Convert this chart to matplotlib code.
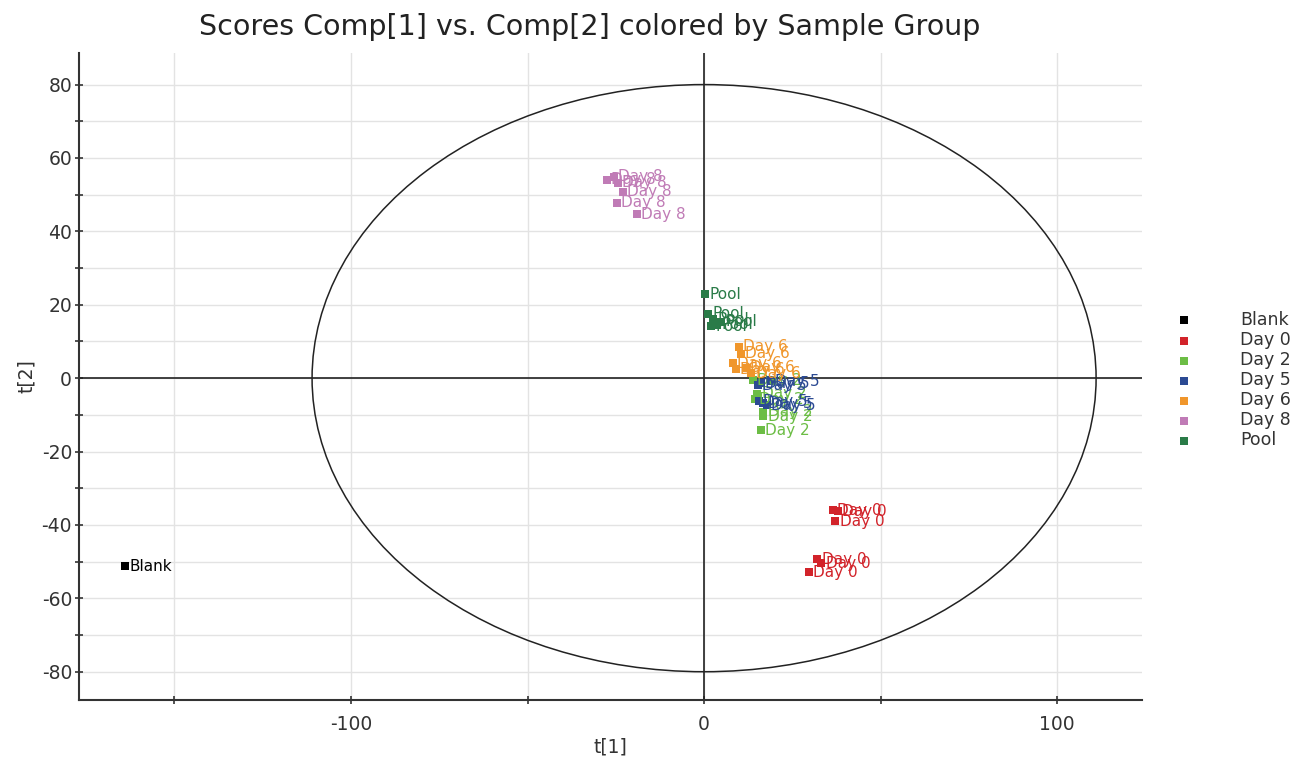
import matplotlib
matplotlib.use("Agg")
import matplotlib.pyplot as plt
from matplotlib.patches import Ellipse
import numpy as np

groups = ["Blank", "Day 0", "Day 2", "Day 5", "Day 6", "Day 8", "Pool"]
colors = ["#000000", "#d2232a", "#6cbd45", "#2b4a93", "#f0962b", "#c07bb6", "#2a7b48"]

blank_t1 = [-163.9]
blank_t2 = [-51.2]
day0_t1 = [36.4, 37.8, 37.2, 32.1, 33.2, 29.8]
day0_t2 = [-36.0, -36.3, -39.0, -49.3, -50.4, -52.9]
day2_t1 = [13.9, 15.1, 14.5, 16.8, 16.8, 16.2]
day2_t2 = [-0.6, -4.2, -5.8, -9.1, -10.4, -14.2]
day5_t1 = [15.3, 16.2, 19.0, 15.6, 16.8, 17.9]
day5_t2 = [-2.0, -1.4, -0.9, -6.3, -6.9, -7.4]
day6_t1 = [9.9, 10.5, 8.2, 9.1, 11.9, 13.4]
day6_t2 = [8.6, 6.7, 4.0, 2.4, 2.9, 1.3]
day8_t1 = [-27.6, -25.6, -24.4, -23.0, -24.7, -19.0]
day8_t2 = [54.1, 54.9, 53.3, 50.8, 47.8, 44.6]
pool_t1 = [0.3, 1.1, 2.6, 2.0, 3.7, 4.8]
pool_t2 = [22.8, 17.6, 16.0, 14.1, 14.6, 15.4]

series = [(blank_t1, blank_t2), (day0_t1, day0_t2), (day2_t1, day2_t2),
          (day5_t1, day5_t2), (day6_t1, day6_t2), (day8_t1, day8_t2),
          (pool_t1, pool_t2)]

ellipse_a = 111.0
ellipse_b = 80.0

fig = plt.figure(figsize=(12.97, 7.63), dpi=100)
ax = fig.add_axes([0.0609, 0.0826, 0.8196, 0.8479])

ax.set_xlim(-177, 124)
ax.set_ylim(-87.7, 88.6)

ax.set_xticks(np.arange(-150, 101, 50))
ax.set_xticklabels(["" if v % 100 else str(v) for v in np.arange(-150, 101, 50)])
ax.set_yticks(np.arange(-80, 81, 10))
ax.set_yticklabels([str(v) if v % 20 == 0 else "" for v in np.arange(-80, 81, 10)])
ax.grid(True, color="#e3e3e3", linewidth=1)
ax.set_axisbelow(True)

for s in ["top", "right"]:
    ax.spines[s].set_visible(False)
for s in ["left", "bottom"]:
    ax.spines[s].set_color("#333333")
    ax.spines[s].set_linewidth(1.5)
ax.tick_params(axis="both", direction="inout", length=6, width=1.2, color="#333333",
               labelsize=13.5, labelcolor="#333333")
ax.tick_params(axis="x", pad=8)
ax.tick_params(axis="y", pad=2)

ax.axhline(0, color="#222222", linewidth=1.2, zorder=1)
ax.axvline(0, color="#222222", linewidth=1.2, zorder=1)
ax.add_patch(Ellipse((0, 0), 2 * ellipse_a, 2 * ellipse_b, fill=False,
                     edgecolor="#222222", linewidth=1.1, zorder=1))

for name, col, (xs, ys) in zip(groups, colors, series):
    ax.scatter(xs, ys, marker="s", s=32, color=col, label=name, zorder=3, linewidths=0)
    for x, y in zip(xs, ys):
        ax.annotate(name, (x, y), xytext=(3, 0), textcoords="offset points",
                    va="center", ha="left", fontsize=11, color=col, zorder=4)

ax.set_xlabel("t[1]", fontsize=13.5, color="#333333", labelpad=2)
ax.set_ylabel("t[2]", fontsize=13.5, color="#333333", labelpad=4)
ax.set_title("Scores Comp[1] vs. Comp[2] colored by Sample Group", fontsize=20.5,
             color="#222222", x=0.48, y=1.0, pad=13)

leg = ax.legend(loc="upper left", bbox_to_anchor=(1.017, 0.612), frameon=False,
                fontsize=12.5, markerscale=0.9, handletextpad=2.2, labelspacing=0.12,
                borderaxespad=0)
for t in leg.get_texts():
    t.set_color("#333333")

fig.savefig("out.png", dpi=100)
